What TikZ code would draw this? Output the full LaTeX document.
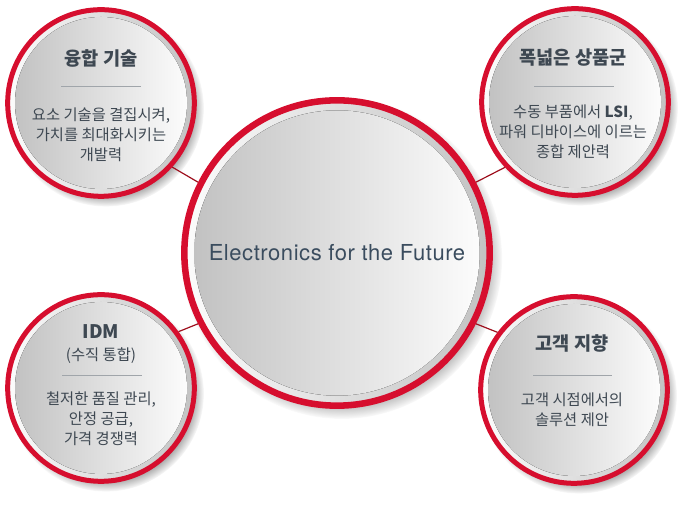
\documentclass[tikz,border=0pt]{standalone}
\usepackage{fontspec}
\setmainfont{Noto Sans CJK KR}
\newfontfamily\herosfont[LetterSpace=2.5]{TeX Gyre Heros}
\usetikzlibrary{shadows}
\definecolor{ringred}{RGB}{214,14,46}
\definecolor{linkred}{RGB}{158,16,30}
\definecolor{txtgray}{RGB}{62,72,82}
\definecolor{sepgray}{RGB}{160,165,170}
\definecolor{hubblue}{RGB}{58,76,94}
\definecolor{shadegray}{RGB}{194,194,194}
\definecolor{shadewhite}{RGB}{252,252,252}
\tikzset{
  disc/.style={path picture={
      \fill[left color=shadewhite,right color=shadegray]
        (path picture bounding box.south west) rectangle (path picture bounding box.north east);
      \fill[left color=shadegray,right color=shadewhite]
        (path picture bounding box.center) circle (#1);}},
  bubble/.style={circle,draw=ringred,line width=3.75pt,minimum size=140pt,inner sep=0pt,
      circular drop shadow={shadow xshift=3.5pt,shadow yshift=-4pt,shadow scale=1.05,opacity=0.9}},
  hub/.style={bubble,minimum size=229pt,line width=4.9pt},
  title/.style={text=txtgray,font=\bfseries\fontsize{14}{17}\selectfont},
  body/.style={text=txtgray,align=center,font=\fontsize{11.5}{15}\selectfont},
  sep/.style={draw=sepgray,line width=0.6pt},
  link/.style={draw=linkred,line width=0.9pt},
}
\begin{document}
\begin{tikzpicture}[x=0.75pt,y=0.75pt]
        \useasboundingbox (0,0) rectangle (699,513);
        %% circles
        \node[bubble,disc=64.5pt] (fusion) at (101,410) {};
        \node[bubble,disc=64.5pt] (lineup) at (575,411) {};
        \node[bubble,disc=64.5pt] (idm) at (101,125) {};
        \node[bubble,disc=64.5pt] (client) at (574,123) {};
        \node[hub,disc=107pt] (hub) at (337,260) {};
        \node[text=hubblue,font=\herosfont\fontsize{16.5}{20}\selectfont] (hubtxt) at (337,260) {Electronics for the Future};
        %% links
        \draw[link] (fusion.-42) -- (hub.153);
        \draw[link] (lineup.-137) -- (hub.27);
        \draw[link] (idm.36) -- (hub.-153);
        \draw[link] (client.143) -- (hub.-27);
        %% top left
        \node[title] (fusion-t) at (101,455) {융합 기술};
        \draw[sep] (61,427) -- (141,427);
        \node[body] (fusion-b) at (101,378) {요소 기술을 결집시켜,\\가치를 최대화시키는\\개발력};
        %% top right
        \node[title] (lineup-t) at (573,455) {폭넓은 상품군};
        \draw[sep] (534,427) -- (614,427);
        \node[body] (lineup-b) at (573,381) {수동 부품에서 \textbf{LSI},\\파워 디바이스에 이르는\\종합 제안력};
        %% bottom left
        \node[title] (idm-t) at (101,181) {IDM};
        \node[body] (idm-s) at (101,157) {(수직 통합)};
        \draw[sep] (62,138) -- (142,138);
        \node[body] (idm-b) at (101,94) {철저한 품질 관리,\\안정 공급,\\가격 경쟁력};
        %% bottom right
        \node[title] (client-t) at (572,170) {고객 지향};
        \draw[sep] (533,138) -- (612,138);
        \node[body] (client-b) at (572,103) {고객 시점에서의\\솔루션 제안};
\end{tikzpicture}
\end{document}
